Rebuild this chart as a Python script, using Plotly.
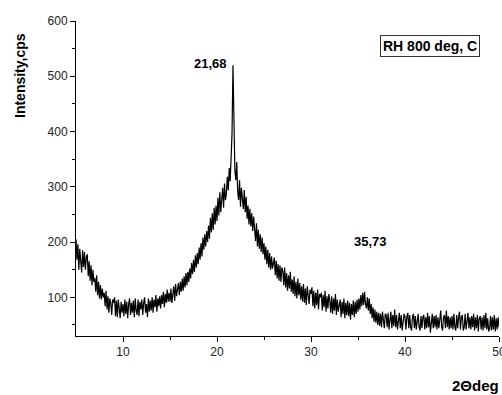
import plotly.graph_objects as go

# 2-theta from 5 to 50 deg, step 0.1
two_theta_start = 5.0
two_theta_step = 0.1
intensity = [
    205, 168, 196, 150, 188, 160, 145, 185, 155, 182,
    150, 172, 178, 138, 165, 130, 158, 122, 150, 128,
    135, 110, 140, 104, 128, 98, 122, 96, 116, 100,
    108, 84, 112, 78, 102, 72, 98, 90, 68, 96,
    90, 100, 66, 94, 64, 96, 80, 62, 92, 72,
    88, 66, 96, 70, 92, 62, 88, 98, 68, 90,
    72, 94, 64, 98, 76, 68, 96, 66, 92, 78,
    96, 68, 90, 100, 72, 88, 64, 98, 74, 94,
    76, 100, 72, 96, 82, 104, 74, 98, 84, 102,
    80, 104, 88, 110, 82, 106, 90, 114, 92, 108,
    92, 116, 90, 112, 120, 94, 124, 102, 118, 126,
    104, 128, 110, 134, 112, 138, 118, 144, 122, 146,
    128, 152, 134, 162, 142, 168, 146, 176, 154, 180,
    160, 190, 168, 198, 174, 208, 186, 214, 192, 220,
    200, 230, 206, 244, 218, 252, 222, 262, 232, 266,
    238, 280, 248, 290, 254, 284, 298, 262, 306, 276,
    288, 318, 294, 334, 310, 352, 398, 520, 415, 330,
    312, 345, 292, 276, 312, 264, 298, 272, 260, 294,
    254, 282, 242, 266, 232, 260, 228, 252, 220, 246,
    230, 202, 234, 192, 222, 188, 214, 182, 208, 178,
    198, 168, 192, 160, 186, 154, 180, 150, 174, 152,
    162, 172, 140, 166, 134, 160, 130, 158, 128, 154,
    148, 122, 154, 118, 144, 112, 140, 116, 146, 110,
    132, 106, 138, 102, 128, 98, 134, 104, 126, 96,
    120, 92, 124, 90, 116, 86, 120, 94, 88, 114,
    106, 118, 84, 112, 80, 108, 86, 114, 78, 106,
    100, 108, 76, 104, 82, 112, 74, 102, 80, 106,
    94, 72, 102, 70, 98, 76, 106, 68, 96, 74,
    88, 96, 64, 92, 70, 98, 62, 90, 68, 94,
    66, 90, 60, 88, 68, 94, 64, 92, 70, 96,
    74, 98, 78, 104, 84, 108, 86, 110, 88, 80,
    100, 76, 98, 70, 88, 62, 82, 56, 78, 54,
    74, 50, 72, 48, 70, 46, 74, 50, 44, 70,
    68, 46, 72, 42, 66, 74, 44, 68, 48, 78,
    46, 68, 42, 66, 72, 44, 68, 40, 64, 70,
    64, 42, 66, 72, 44, 68, 46, 40, 66, 70,
    44, 66, 42, 64, 70, 46, 40, 66, 44, 64,
    68, 42, 64, 44, 72, 46, 66, 36, 64, 70,
    44, 66, 46, 68, 42, 64, 44, 66, 76, 46,
    40, 64, 68, 44, 76, 46, 66, 42, 64, 44,
    66, 42, 70, 46, 40, 68, 44, 64, 74, 42,
    64, 68, 40, 46, 70, 42, 66, 72, 44, 64,
    42, 66, 46, 70, 40, 64, 44, 68, 38, 62,
    66, 42, 64, 40, 68, 44, 72, 42, 62, 38,
    44, 66, 40, 64, 42, 68, 38, 62, 42, 64,
    46,
]
two_theta = [round(two_theta_start + i * two_theta_step, 2) for i in range(len(intensity))]

x_ticks = [10, 20, 30, 40, 50]
y_ticks = [100, 200, 300, 400, 500, 600]
peak_labels = ["21,68", "35,73"]
sample_label = "RH 800 deg, C"
x_title = "2Θdeg"
y_title = "Intensity,cps"

W, H = 502, 395
L, R, T, B = 76, 499, 21, 336
pw, ph = R - L, B - T


def px(xp):
    return (xp - L) / pw


def py(yp):
    return (B - yp) / ph


fig = go.Figure()
fig.add_trace(go.Scatter(x=two_theta, y=intensity, mode="lines",
                         line=dict(color="black", width=1.2), showlegend=False))

axis_font = dict(family="Arial, Liberation Sans, sans-serif", size=12, color="#222")
fig.update_layout(
    width=W, height=H,
    margin=dict(l=L, r=W - R, t=T, b=H - B, autoexpand=False),
    plot_bgcolor="white", paper_bgcolor="white",
    xaxis=dict(range=[5, 50], tickvals=x_ticks, ticks="outside", ticklen=5,
               tickwidth=1, tickcolor="black", showline=True, linecolor="black",
               linewidth=1, showgrid=False, zeroline=False, tickfont=axis_font,
               ticklabeloverflow="allow", automargin=False,
               minor=dict(tickvals=[15, 25, 35, 45], ticks="outside", ticklen=3,
                          tickcolor="black")),
    yaxis=dict(range=[30, 600], tickvals=y_ticks, ticks="outside", ticklen=5,
               tickwidth=1, tickcolor="black", showline=True, linecolor="black",
               linewidth=1, showgrid=False, zeroline=False, tickfont=axis_font,
               automargin=False,
               minor=dict(tickvals=[50, 150, 250, 350, 450, 550], ticks="outside",
                          ticklen=3, tickcolor="black")),
)

bold = dict(family="Arial, Liberation Sans, sans-serif", size=13, color="black")
fig.add_annotation(x=px(20), y=py(76), xref="paper", yref="paper",
                   text="<b>%s</b>" % y_title, textangle=-90, showarrow=False,
                   font=dict(bold, size=14), xanchor="center", yanchor="middle")
fig.add_annotation(x=px(450), y=py(386), xref="paper", yref="paper",
                   text="<b>%s</b>" % x_title, showarrow=False,
                   font=dict(bold, size=15), xanchor="left", yanchor="middle")
fig.add_annotation(x=px(210), y=py(64), xref="paper", yref="paper",
                   text="<b>%s</b>" % peak_labels[0], showarrow=False,
                   font=bold, xanchor="center", yanchor="middle")
fig.add_annotation(x=px(370), y=py(241), xref="paper", yref="paper",
                   text="<b>%s</b>" % peak_labels[1], showarrow=False,
                   font=bold, xanchor="center", yanchor="middle")
fig.add_annotation(x=px(429.5), y=py(46), xref="paper", yref="paper",
                   text="<b>%s</b>" % sample_label, showarrow=False,
                   font=dict(bold, size=14), xanchor="center", yanchor="middle",
                   bordercolor="#333", borderwidth=1, borderpad=2, bgcolor="white")

fig.write_html("out.html", config={"displayModeBar": False},
               post_script="document.body.style.margin='0';document.body.style.overflow='hidden';")
